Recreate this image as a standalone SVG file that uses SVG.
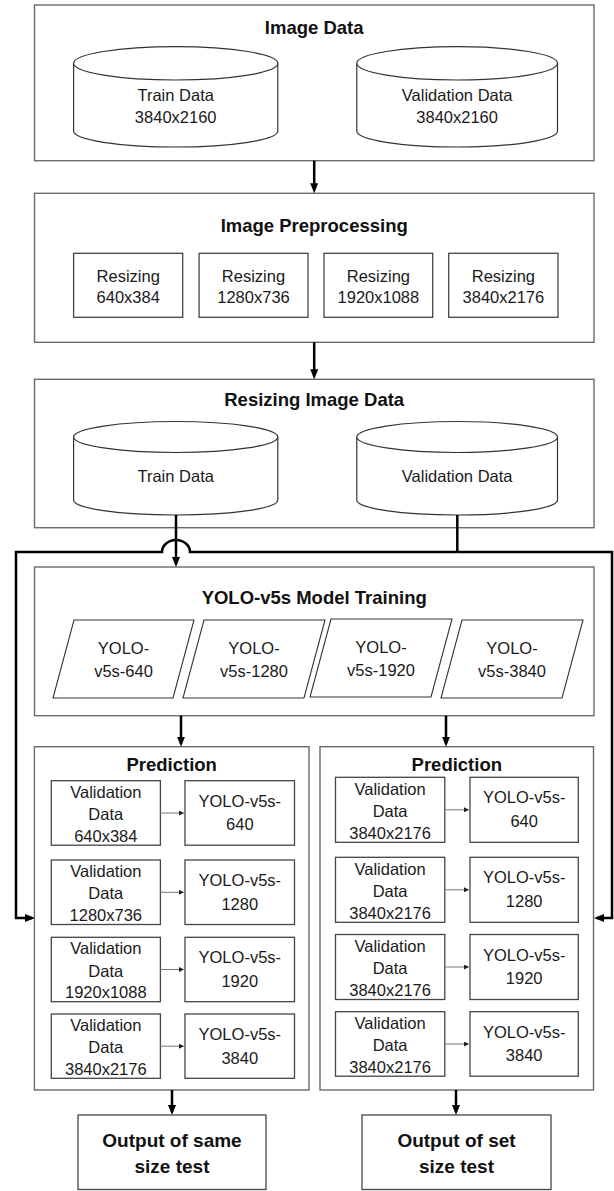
<svg xmlns="http://www.w3.org/2000/svg" width="614" height="1191" viewBox="0 0 614 1191">
<style>
.bg{fill:#fff}
.ob{fill:#fff;stroke:#6a6a6a;stroke-width:1.4}
.ib{fill:#fff;stroke:#454545;stroke-width:1.3}
.cy{fill:#fff;stroke:#333;stroke-width:1.2}
.pg{fill:#fff;stroke:#333;stroke-width:1.1}
.t{font-family:"Liberation Sans",Arial,sans-serif;font-weight:bold;font-size:18.5px;fill:#111;text-anchor:middle}
.o{font-family:"Liberation Sans",Arial,sans-serif;font-weight:bold;font-size:19px;fill:#111;text-anchor:middle}
.n{font-family:"Liberation Sans",Arial,sans-serif;font-size:16.5px;fill:#1a1a1a;text-anchor:middle}
.c{fill:none;stroke:#000;stroke-width:2.5;stroke-linejoin:miter}
.s{fill:none;stroke:#777;stroke-width:1}
</style>
<defs>
<marker id="ah" markerUnits="userSpaceOnUse" markerWidth="11" markerHeight="8" refX="7" refY="4" orient="auto">
<path d="M0,0 L10,4 L0,8 z" fill="#000"/>
</marker>
<marker id="sa" markerUnits="userSpaceOnUse" markerWidth="6" markerHeight="5" refX="4.5" refY="2.5" orient="auto">
<path d="M0,0 L5,2.5 L0,5 z" fill="#222"/>
</marker>
</defs>
<rect class="bg" x="0" y="0" width="614" height="1191"/>

<g id="image-data">
<rect class="ob" x="34.5" y="5" width="559.5" height="155.7"/>
<text class="t" x="314.2" y="34.3">Image Data</text>
</g>
<g id="train-data-raw">
<path class="cy" d="M73.6,63.3 V131 A102.1,16 0 0 0 277.8,131 V63.3"/>
<ellipse class="cy" cx="175.7" cy="63.3" rx="102.1" ry="16.7"/>
<text class="n" x="175.7" y="100.7">Train Data</text>
<text class="n" x="175.7" y="123.3">3840x2160</text>
</g>
<g id="validation-data-raw">
<path class="cy" d="M356.8,63.3 V131 A100.35,16 0 0 0 557.5,131 V63.3"/>
<ellipse class="cy" cx="457.15" cy="63.3" rx="100.35" ry="16.7"/>
<text class="n" x="457.15" y="100.7">Validation Data</text>
<text class="n" x="457.15" y="123.3">3840x2160</text>
</g>

<g id="image-preprocessing">
<rect class="ob" x="34.5" y="193.3" width="559.5" height="149"/>
<text class="t" x="314.2" y="231.7">Image Preprocessing</text>
</g>
<g id="resize-640">
<rect class="ib" x="73.6" y="253.3" width="109.1" height="64"/>
<text class="n" x="128.2" y="281.7">Resizing</text>
<text class="n" x="128.2" y="303.3">640x384</text>
</g>
<g id="resize-1280">
<rect class="ib" x="199.1" y="253.3" width="108.9" height="64"/>
<text class="n" x="253.5" y="281.7">Resizing</text>
<text class="n" x="253.5" y="303.3">1280x736</text>
</g>
<g id="resize-1920">
<rect class="ib" x="324" y="253.3" width="108.7" height="64"/>
<text class="n" x="378.4" y="281.7">Resizing</text>
<text class="n" x="378.4" y="303.3">1920x1088</text>
</g>
<g id="resize-3840">
<rect class="ib" x="448.7" y="253.3" width="109.3" height="64"/>
<text class="n" x="503.4" y="281.7">Resizing</text>
<text class="n" x="503.4" y="303.3">3840x2176</text>
</g>

<g id="resizing-image-data">
<rect class="ob" x="34.5" y="379.3" width="559.5" height="148.4"/>
<text class="t" x="314.2" y="405.7">Resizing Image Data</text>
</g>
<g id="train-data-resized">
<path class="cy" d="M73.6,437 V500 A102.1,15 0 0 0 277.8,500 V437"/>
<ellipse class="cy" cx="175.7" cy="437" rx="102.1" ry="15.5"/>
<text class="n" x="175.7" y="482.3">Train Data</text>
</g>
<g id="validation-data-resized">
<path class="cy" d="M356.8,437 V500 A100.35,15 0 0 0 557.5,500 V437"/>
<ellipse class="cy" cx="457.15" cy="437" rx="100.35" ry="15.5"/>
<text class="n" x="457.15" y="482.3">Validation Data</text>
</g>

<g id="yolo-training">
<rect class="ob" x="34.5" y="567" width="559.5" height="148.7"/>
<text class="t" x="314.2" y="604.3">YOLO-v5s Model Training</text>
</g>
<g id="yolo-640">
<polygon class="pg" points="74,620 194,620 173,698 53,698"/>
<text class="n" x="123.5" y="654">YOLO-</text>
<text class="n" x="123.5" y="677">v5s-640</text>
</g>
<g id="yolo-1280">
<polygon class="pg" points="204,620 325,620 304,698 183,698"/>
<text class="n" x="254" y="654">YOLO-</text>
<text class="n" x="254" y="677">v5s-1280</text>
</g>
<g id="yolo-1920">
<polygon class="pg" points="331,619 452,619 431,697 310,697"/>
<text class="n" x="381" y="652.7">YOLO-</text>
<text class="n" x="381" y="675.5">v5s-1920</text>
</g>
<g id="yolo-3840">
<polygon class="pg" points="462,620 583,620 562,698 441,698"/>
<text class="n" x="512" y="654">YOLO-</text>
<text class="n" x="512" y="677">v5s-3840</text>
</g>

<g id="prediction-same">
<rect class="ob" x="34.4" y="746.7" width="274.6" height="343.3"/>
<text class="t" x="171.7" y="770.7">Prediction</text>
<rect class="ib" x="51.3" y="780.7" width="109.1" height="64.5"/>
<text class="n" x="105.8" y="797.7">Validation</text>
<text class="n" x="105.8" y="820">Data</text>
<text class="n" x="105.8" y="841.7">640x384</text>
<rect class="ib" x="185" y="780.7" width="109.5" height="64.5"/>
<text class="n" x="239.8" y="806.7">YOLO-v5s-</text>
<text class="n" x="239.8" y="830.2">640</text>
<rect class="ib" x="51.3" y="860" width="109.1" height="64.5"/>
<text class="n" x="105.8" y="877">Validation</text>
<text class="n" x="105.8" y="899.3">Data</text>
<text class="n" x="105.8" y="921">1280x736</text>
<rect class="ib" x="185" y="860" width="109.5" height="64.5"/>
<text class="n" x="239.8" y="886">YOLO-v5s-</text>
<text class="n" x="239.8" y="909.5">1280</text>
<rect class="ib" x="51.3" y="937.3" width="109.1" height="64.4"/>
<text class="n" x="105.8" y="954.3">Validation</text>
<text class="n" x="105.8" y="976.6">Data</text>
<text class="n" x="105.8" y="998.3">1920x1088</text>
<rect class="ib" x="185" y="937.3" width="109.5" height="64.4"/>
<text class="n" x="239.8" y="963.3">YOLO-v5s-</text>
<text class="n" x="239.8" y="986.8">1920</text>
<rect class="ib" x="51.3" y="1014" width="109.1" height="64.3"/>
<text class="n" x="105.8" y="1031">Validation</text>
<text class="n" x="105.8" y="1053.3">Data</text>
<text class="n" x="105.8" y="1075">3840x2176</text>
<rect class="ib" x="185" y="1014" width="109.5" height="64.3"/>
<text class="n" x="239.8" y="1040">YOLO-v5s-</text>
<text class="n" x="239.8" y="1063.5">3840</text>
</g>

<g id="prediction-set">
<rect class="ob" x="320" y="746.7" width="273.5" height="343.3"/>
<text class="t" x="456.8" y="770.7">Prediction</text>
<rect class="ib" x="335.5" y="777.3" width="109.3" height="65"/>
<text class="n" x="390.1" y="794.7">Validation</text>
<text class="n" x="390.1" y="817">Data</text>
<text class="n" x="390.1" y="838.8">3840x2176</text>
<rect class="ib" x="470" y="777.3" width="108.3" height="65"/>
<text class="n" x="524.2" y="803.3">YOLO-v5s-</text>
<text class="n" x="524.2" y="826.8">640</text>
<rect class="ib" x="335.5" y="857.3" width="109.3" height="65"/>
<text class="n" x="390.1" y="874.7">Validation</text>
<text class="n" x="390.1" y="897">Data</text>
<text class="n" x="390.1" y="918.8">3840x2176</text>
<rect class="ib" x="470" y="857.3" width="108.3" height="65"/>
<text class="n" x="524.2" y="883.3">YOLO-v5s-</text>
<text class="n" x="524.2" y="906.8">1280</text>
<rect class="ib" x="335.5" y="934.5" width="109.3" height="65"/>
<text class="n" x="390.1" y="951.9">Validation</text>
<text class="n" x="390.1" y="974.2">Data</text>
<text class="n" x="390.1" y="996">3840x2176</text>
<rect class="ib" x="470" y="934.5" width="108.3" height="65"/>
<text class="n" x="524.2" y="960.5">YOLO-v5s-</text>
<text class="n" x="524.2" y="984">1920</text>
<rect class="ib" x="335.5" y="1011.7" width="109.3" height="64.5"/>
<text class="n" x="390.1" y="1029.1">Validation</text>
<text class="n" x="390.1" y="1051.4">Data</text>
<text class="n" x="390.1" y="1073.2">3840x2176</text>
<rect class="ib" x="470" y="1011.7" width="108.3" height="64.5"/>
<text class="n" x="524.2" y="1037.7">YOLO-v5s-</text>
<text class="n" x="524.2" y="1061.2">3840</text>
</g>

<g id="output-same">
<rect class="ib" x="78" y="1115" width="188" height="74.5"/>
<text class="o" x="172" y="1147.3">Output of same</text>
<text class="o" x="172" y="1173.3">size test</text>
</g>
<g id="output-set">
<rect class="ib" x="362" y="1115" width="189" height="74.5"/>
<text class="o" x="456.5" y="1147.3">Output of set</text>
<text class="o" x="456.5" y="1173.3">size test</text>
</g>

<g id="connectors">
<path class="c" d="M314.2,160.7 V190.3" marker-end="url(#ah)"/>
<path class="c" d="M314.2,342.3 V376.3" marker-end="url(#ah)"/>
<path class="c" d="M176,515 V564" marker-end="url(#ah)"/>
<path class="c" d="M457.3,515 V552"/>
<path class="c" d="M457.3,552 H190 A14,12 0 0 0 162,552 H16 V918 H32" marker-end="url(#ah)"/>
<path class="c" d="M457.3,552 H612 V918 H597" marker-end="url(#ah)"/>
<path class="c" d="M181,715.7 V743.7" marker-end="url(#ah)"/>
<path class="c" d="M446,715.7 V743.7" marker-end="url(#ah)"/>
<path class="c" d="M172,1090 V1112" marker-end="url(#ah)"/>
<path class="c" d="M456,1090 V1112" marker-end="url(#ah)"/>
<path class="s" d="M160.4,813 H183.5" marker-end="url(#sa)"/>
<path class="s" d="M160.4,892.3 H183.5" marker-end="url(#sa)"/>
<path class="s" d="M160.4,969.5 H183.5" marker-end="url(#sa)"/>
<path class="s" d="M160.4,1046.2 H183.5" marker-end="url(#sa)"/>
<path class="s" d="M444.8,809.8 H468.5" marker-end="url(#sa)"/>
<path class="s" d="M444.8,889.8 H468.5" marker-end="url(#sa)"/>
<path class="s" d="M444.8,967 H468.5" marker-end="url(#sa)"/>
<path class="s" d="M444.8,1044 H468.5" marker-end="url(#sa)"/>
</g>
</svg>
